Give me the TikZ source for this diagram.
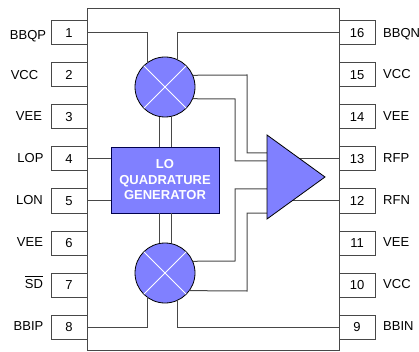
\documentclass[tikz,border=0pt]{standalone}
\usepackage{fontspec}
\setmainfont{Liberation Sans}
\definecolor{blk}{HTML}{8080FF}
\definecolor{wire}{HTML}{484848}
\tikzset{
  x=1pt,y=-1pt,
  pinbox/.style={draw=wire,line width=1pt,minimum width=36pt,minimum height=24pt,inner sep=0pt,outer sep=0pt,font=\fontsize{13}{13}\selectfont},
  pinl/.style={anchor=center,inner sep=0pt,font=\fontsize{13}{13}\selectfont},
  pinr/.style={anchor=west,inner sep=0pt,font=\fontsize{13}{13}\selectfont},
  wired/.style={draw=wire,line width=1pt},
  mixer/.style={circle,draw=black,fill=blk,line width=0.8pt,minimum size=60pt,inner sep=0pt,outer sep=0pt},
  cross/.style={draw=white,line width=1pt},
}
\begin{document}
\begin{tikzpicture}
\useasboundingbox (0,0) rectangle (419,352);
\node[draw=wire,line width=1pt,minimum width=252pt,minimum height=341pt,inner sep=0pt,outer sep=0pt] (chip) at (213,179.5) {};
\foreach \n/\y in {1/33,2/75,3/117,4/159,5/201,6/243,7/285,8/327}
  \node[pinbox] (p\n) at (69,\y) {\n};
\foreach \n/\y in {16/33,15/75,14/117,13/159,12/201,11/243,10/285,9/327}
  \node[pinbox] (p\n) at (357,\y) {\n};
\node[pinl] (lb1) at (28,36.5) {BBQP};
\node[pinl] (lb2) at (24.5,75.5) {VCC};
\node[pinl] (lb3) at (29,116.5) {VEE};
\node[pinl] (lb4) at (30.5,158.5) {LOP};
\node[pinl] (lb5) at (29.5,200.5) {LON};
\node[pinl] (lb6) at (30,242.5) {VEE};
\node[pinl] (lb7) at (34,282) {$\overline{\mbox{SD}\rule{0pt}{11pt}}$};
\node[pinl] (lb8) at (28.5,326.5) {BBIP};
\node[pinr] (lb16) at (383,34.5) {BBQN};
\node[pinr] (lb15) at (383,74.5) {VCC};
\node[pinr] (lb14) at (383,116.5) {VEE};
\node[pinr] (lb13) at (383,158.5) {RFP};
\node[pinr] (lb12) at (383,200.5) {RFN};
\node[pinr] (lb11) at (383,242.5) {VEE};
\node[pinr] (lb10) at (383,284.5) {VCC};
\node[pinr] (lb9) at (383,326.5) {BBIN};
\node[mixer] (m1) at (165,87) {};
\node[mixer] (m2) at (165,273) {};
\draw[cross] (m1.135) -- (m1.-45) (m1.45) -- (m1.-135);
\draw[cross] (m2.135) -- (m2.-45) (m2.45) -- (m2.-135);
\node[draw=black!70!blue,fill=blk,line width=0.8pt,minimum width=108pt,minimum height=66pt,inner sep=0pt,outer sep=0pt,align=center,text=white,font=\fontsize{13}{15.5}\selectfont\bfseries] (lo) at (165,180) {LO\\QUADRATURE\\GENERATOR};
\coordinate (t1) at (267,135);
\coordinate (t2) at (267,219);
\coordinate (t3) at (325,177);
\coordinate (a1) at (267,153);
\coordinate (a2) at (267,161);
\coordinate (a3) at (267,189);
\coordinate (a4) at (267,213);
\coordinate (o1) at (300,159);
\coordinate (o2) at (292,201);
\coordinate (v1) at (159,117);
\coordinate (v2) at (171,117);
\coordinate (v3) at (159,243);
\coordinate (v4) at (171,243);
\coordinate (l1) at (159,147);
\coordinate (l2) at (171,147);
\coordinate (l3) at (159,213);
\coordinate (l4) at (171,213);
\draw[wired] (p1.east) -| (m1.126.87);
\draw[wired] (p16.west) -| (m1.66.42);
\draw[wired] (p8.east) -| (m2.-126.87);
\draw[wired] (p9.west) -| (m2.-66.42);
\draw[wired] (p4.east) -- (lo.west |- p4.east);
\draw[wired] (p5.east) -- (lo.west |- p5.east);
\draw[wired] (v1) -- (l1);
\draw[wired] (v2) -- (l2);
\draw[wired] (l3) -- (v3);
\draw[wired] (l4) -- (v4);
\draw[wired] (m1.23.58) -- (247,75) |- (a1);
\draw[wired] (m1.-23.58) -- (235,99) |- (a2);
\draw[wired] (m2.23.58) -- (235,261) |- (a3);
\draw[wired] (m2.-36.87) -- (247,291) |- (a4);
\draw[wired] (o1) -- (p13.west);
\draw[wired] (o2) -- (p12.west);
\draw[fill=blk,draw=black,line width=0.8pt] (t1) -- (t3) -- (t2) -- cycle;
\end{tikzpicture}
\end{document}
